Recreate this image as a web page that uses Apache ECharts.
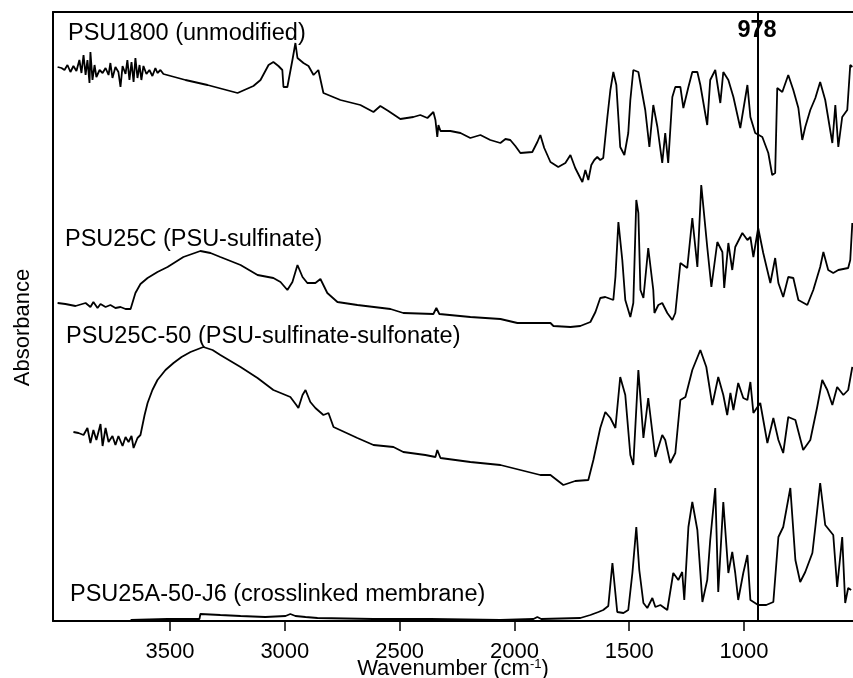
<!DOCTYPE html>
<html>
<head>
<meta charset="utf-8">
<script src="https://cdn.jsdelivr.net/npm/echarts@6/dist/echarts.min.js"></script>
<style>
html,body{margin:0;padding:0;background:#fff;}
#chart{width:853px;height:678px;}
</style>
</head>
<body>
<div id="chart"></div>
<script>
// Wavenumber (cm-1), absorbance (arbitrary units, stacked offsets)
const psu1800 = [[3990,5.54],[3973,5.53],[3960,5.51],[3947,5.56],[3934,5.49],[3921,5.55],[3908,5.50],[3895,5.61],[3886,5.48],[3877,5.66],[3868,5.46],[3860,5.61],[3851,5.38],[3847,5.69],[3838,5.41],[3829,5.56],[3821,5.44],[3807,5.51],[3794,5.48],[3781,5.53],[3768,5.46],[3760,5.58],[3751,5.43],[3738,5.54],[3725,5.49],[3716,5.34],[3707,5.55],[3694,5.47],[3686,5.61],[3677,5.41],[3668,5.59],[3659,5.39],[3651,5.63],[3642,5.43],[3633,5.56],[3625,5.41],[3616,5.55],[3603,5.47],[3590,5.51],[3577,5.45],[3564,5.53],[3555,5.48],[3542,5.51],[3529,5.47],[3433,5.41],[3337,5.36],[3206,5.28],[3137,5.35],[3106,5.41],[3071,5.56],[3050,5.59],[3028,5.55],[3011,5.51],[3006,5.34],[2989,5.34],[2967,5.61],[2954,5.78],[2945,5.63],[2919,5.58],[2897,5.55],[2875,5.46],[2854,5.51],[2832,5.28],[2758,5.21],[2671,5.16],[2614,5.09],[2584,5.15],[2549,5.10],[2497,5.02],[2440,5.04],[2410,5.06],[2379,5.03],[2353,5.09],[2344,5.01],[2336,4.84],[2331,4.96],[2322,4.90],[2279,4.90],[2235,4.88],[2192,4.83],[2148,4.86],[2105,4.81],[2061,4.78],[2039,4.82],[2018,4.81],[1996,4.75],[1974,4.68],[1922,4.69],[1900,4.79],[1887,4.86],[1870,4.73],[1843,4.59],[1809,4.54],[1778,4.58],[1756,4.66],[1735,4.53],[1713,4.43],[1704,4.39],[1691,4.51],[1678,4.41],[1665,4.56],[1652,4.61],[1639,4.64],[1626,4.61],[1613,4.63],[1595,5.04],[1582,5.31],[1569,5.49],[1556,5.36],[1539,4.74],[1521,4.66],[1504,4.88],[1495,5.21],[1482,5.51],[1460,5.49],[1430,5.11],[1412,4.74],[1395,5.16],[1377,4.94],[1356,4.58],[1343,4.88],[1330,4.58],[1312,5.24],[1299,5.34],[1277,5.34],[1264,5.13],[1242,5.34],[1225,5.49],[1203,5.49],[1190,5.36],[1160,4.96],[1147,5.41],[1125,5.51],[1103,5.18],[1090,5.49],[1068,5.41],[1046,5.24],[1016,4.93],[985,5.36],[972,5.04],[951,4.88],[920,4.84],[894,4.68],[877,4.46],[864,4.48],[855,5.33],[833,5.29],[807,5.46],[785,5.31],[763,5.13],[746,4.81],[733,4.94],[711,5.11],[689,5.23],[668,5.39],[646,5.21],[615,4.78],[602,5.16],[589,4.74],[572,5.04],[550,5.11],[537,5.56],[528,5.54]];

const psu25c = [[3990,3.18],[3956,3.17],[3912,3.15],[3868,3.18],[3847,3.14],[3834,3.19],[3816,3.13],[3803,3.17],[3781,3.14],[3760,3.16],[3738,3.13],[3716,3.14],[3694,3.12],[3672,3.12],[3651,3.28],[3629,3.37],[3598,3.43],[3555,3.49],[3511,3.54],[3442,3.64],[3368,3.70],[3324,3.68],[3281,3.64],[3193,3.56],[3119,3.46],[3050,3.43],[3019,3.39],[2989,3.31],[2967,3.39],[2945,3.56],[2923,3.44],[2902,3.38],[2867,3.38],[2845,3.42],[2815,3.28],[2771,3.19],[2684,3.16],[2540,3.12],[2484,3.08],[2353,3.07],[2340,3.13],[2327,3.07],[2192,3.04],[2061,3.02],[1987,2.98],[1843,2.98],[1830,2.95],[1756,2.94],[1713,2.95],[1669,2.99],[1647,3.09],[1626,3.23],[1604,3.24],[1569,3.21],[1560,3.44],[1547,3.99],[1530,3.61],[1517,3.21],[1495,3.04],[1482,3.18],[1469,4.21],[1460,4.08],[1451,3.31],[1438,3.23],[1417,3.73],[1395,3.31],[1390,3.08],[1373,3.16],[1356,3.18],[1334,3.08],[1312,3.01],[1299,3.08],[1277,3.58],[1247,3.53],[1225,4.03],[1203,3.54],[1186,4.36],[1160,3.74],[1142,3.34],[1116,3.79],[1094,3.69],[1086,3.33],[1068,3.78],[1051,3.51],[1038,3.74],[1007,3.88],[985,3.81],[972,3.84],[959,3.64],[938,3.93],[916,3.68],[885,3.38],[864,3.63],[850,3.38],[829,3.24],[807,3.44],[785,3.43],[763,3.21],[724,3.16],[698,3.31],[668,3.54],[654,3.69],[633,3.51],[611,3.48],[589,3.51],[546,3.53],[537,3.61],[528,3.98]];

const psu25c50 = [[3921,1.89],[3899,1.88],[3877,1.86],[3860,1.93],[3847,1.78],[3834,1.91],[3821,1.81],[3803,1.97],[3794,1.75],[3781,1.93],[3768,1.79],[3751,1.85],[3738,1.76],[3725,1.85],[3707,1.75],[3694,1.84],[3681,1.79],[3668,1.85],[3659,1.73],[3642,1.83],[3629,1.86],[3611,2.06],[3598,2.18],[3577,2.31],[3555,2.41],[3520,2.51],[3485,2.58],[3450,2.64],[3411,2.69],[3355,2.74],[3315,2.71],[3281,2.66],[3193,2.54],[3119,2.43],[3050,2.31],[2976,2.24],[2950,2.16],[2941,2.13],[2923,2.26],[2910,2.31],[2889,2.19],[2867,2.13],[2832,2.06],[2810,2.08],[2788,1.94],[2684,1.83],[2614,1.76],[2527,1.74],[2484,1.69],[2388,1.66],[2344,1.64],[2336,1.71],[2322,1.63],[2192,1.59],[2061,1.56],[1974,1.51],[1887,1.46],[1843,1.46],[1787,1.36],[1735,1.40],[1678,1.41],[1656,1.61],[1626,1.93],[1604,2.09],[1582,2.03],[1560,1.93],[1539,2.44],[1517,2.26],[1495,1.66],[1482,1.56],[1460,2.51],[1438,1.83],[1417,2.23],[1386,1.64],[1356,1.86],[1343,1.81],[1321,1.58],[1299,1.68],[1277,2.21],[1255,2.24],[1225,2.51],[1190,2.71],[1164,2.54],[1138,2.16],[1112,2.44],[1090,2.26],[1073,2.06],[1059,2.28],[1046,2.11],[1025,2.38],[1003,2.23],[985,2.21],[972,2.39],[959,2.08],[929,2.18],[898,1.78],[872,2.03],[850,1.81],[829,1.68],[807,2.04],[776,2.01],[742,1.71],[711,1.81],[681,2.14],[659,2.41],[637,2.31],[615,2.16],[594,2.34],[567,2.26],[546,2.31],[528,2.54]];

const psu25a50j6 = [[3672,0.01],[3511,0.02],[3372,0.02],[3368,0.07],[3281,0.06],[3193,0.05],[3085,0.04],[2997,0.05],[2976,0.07],[2954,0.05],[2910,0.04],[2858,0.03],[2614,0.02],[2366,0.02],[2061,0.01],[1917,0.02],[1900,0.04],[1883,0.02],[1713,0.03],[1669,0.06],[1634,0.09],[1613,0.11],[1591,0.15],[1573,0.58],[1552,0.09],[1525,0.08],[1504,0.11],[1486,0.48],[1469,0.94],[1456,0.51],[1438,0.18],[1421,0.13],[1399,0.23],[1386,0.14],[1364,0.16],[1334,0.11],[1308,0.48],[1286,0.41],[1269,0.49],[1260,0.21],[1242,0.94],[1225,1.19],[1203,0.91],[1181,0.19],[1160,0.41],[1147,0.81],[1125,1.33],[1112,0.29],[1090,1.19],[1068,0.48],[1051,0.69],[1038,0.48],[1025,0.21],[1003,0.48],[985,0.66],[972,0.21],[938,0.16],[903,0.16],[872,0.19],[850,0.84],[829,0.94],[798,1.33],[776,0.61],[755,0.39],[733,0.49],[702,0.68],[689,0.94],[668,1.38],[646,0.96],[611,0.86],[594,0.34],[572,0.84],[559,0.18],[546,0.33],[533,0.31]];

const tickValues = [1000, 1500, 2000, 2500, 3000, 3500];
const seriesNames = ['PSU1800 (unmodified)', 'PSU25C (PSU-sulfinate)', 'PSU25C-50 (PSU-sulfinate-sulfonate)', 'PSU25A-50-J6 (crosslinked membrane)'];
const markerWavenumber = 939;   // drawn position of the marked band
const markerLabel = '978';

const FONT = "'Liberation Sans', Arial, Helvetica, sans-serif";
const chart = echarts.init(document.getElementById('chart'), null, {renderer: 'canvas'});

const lineStyle = {color: '#000', width: 1.8};
function mk(name, data) {
  return {name, type: 'line', data, showSymbol: false, symbol: 'none', lineStyle, color: '#000', silent: true, animation: false};
}

const s1 = mk(seriesNames[0], psu1800);
s1.markLine = {
  silent: true, symbol: 'none', animation: false,
  lineStyle: {color: '#000', width: 2, type: 'solid'},
  label: {show: false},
  data: [{xAxis: markerWavenumber}]
};

const labelStyle = (text, x, y, extra) => Object.assign({
  type: 'text', x, y, silent: true,
  style: Object.assign({text, font: `23.5px ${FONT}`, fill: '#000', align: 'left', verticalAlign: 'middle'}, extra || {})
});

chart.setOption({
  animation: false,
  backgroundColor: '#fff',
  grid: {left: 53, right: 0, top: 12, bottom: 57, containLabel: false, outerBoundsMode: 'none'},
  xAxis: [{
    type: 'value', min: 525, max: 4010, inverse: true,
    axisLine: {show: true, onZero: false, lineStyle: {color: '#000', width: 2}},
    axisTick: {show: true, inside: false, length: 10, customValues: tickValues, lineStyle: {color: '#000', width: 1.5}},
    axisLabel: {show: true, customValues: tickValues, formatter: v => String(v), margin: 20, color: '#000', fontSize: 22, fontFamily: FONT},
    splitLine: {show: false},
    name: 'Wavenumber (cm{sup|-1})',
    nameLocation: 'middle', nameGap: 37, nameMoveOverlap: false,
    nameTextStyle: {color: '#000', fontSize: 22, fontFamily: FONT,
      rich: {sup: {fontSize: 13, fontFamily: FONT, color: '#000', verticalAlign: 'top', padding: [0, 0, 8, 0]}}}
  }, {
    type: 'value', min: 525, max: 4010, inverse: true, position: 'top',
    axisLine: {show: true, onZero: false, lineStyle: {color: '#000', width: 2}},
    axisTick: {show: false}, axisLabel: {show: false}, splitLine: {show: false}
  }],
  yAxis: {
    type: 'value', min: 0, max: 6.09,
    axisLine: {show: true, onZero: false, lineStyle: {color: '#000', width: 2}},
    axisTick: {show: false}, axisLabel: {show: false}, splitLine: {show: false},
    name: 'Absorbance', nameLocation: 'middle', nameGap: 19,
    nameTextStyle: {color: '#000', fontSize: 22, fontFamily: FONT, padding: [0, 22, 0, 0]}
  },
  series: [s1, mk(seriesNames[1], psu25c), mk(seriesNames[2], psu25c50), mk(seriesNames[3], psu25a50j6)],
  graphic: [
    labelStyle(seriesNames[0], 68, 34),
    labelStyle(seriesNames[1], 65, 240),
    labelStyle(seriesNames[2], 66, 337),
    labelStyle(seriesNames[3], 70, 595),
    labelStyle(markerLabel, 757, 31, {font: `bold 23.5px ${FONT}`, align: 'center'})
  ]
});
</script>
</body>
</html>
